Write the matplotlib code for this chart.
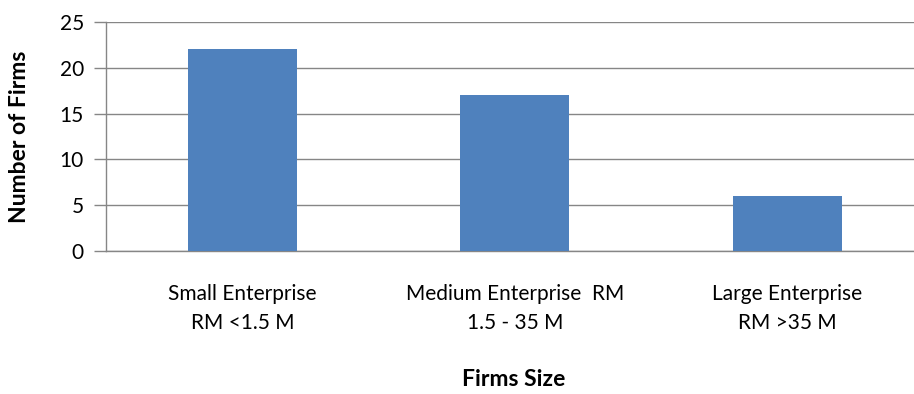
import numpy as np
import matplotlib
matplotlib.use("Agg")
import matplotlib.pyplot as plt

# données
categories = ["Small Enterprise\nRM <1.5 M", "Medium Enterprise  RM\n1.5 - 35 M", "Large Enterprise\nRM >35 M"]
firms = [22, 17, 6]
yticks = [0, 5, 10, 15, 20, 25]

plt.rcParams['font.family'] = ['Lato', 'DejaVu Sans']

fig = plt.figure(figsize=(9.14, 3.94), dpi=100)
ax = fig.add_axes([106/914, 143/394, 1 - 106/914, 229/394])

x = np.arange(len(categories))
ax.bar(x, firms, width=0.4, color="#4F81BD", zorder=3)

ax.set_xlim(-0.5, 2.465)
ax.set_ylim(0, 25)
ax.set_yticks(yticks)
ax.set_xticks(x)
ax.set_xticklabels(categories, fontsize=15, linespacing=1.55)
ax.tick_params(axis='x', length=0, pad=24)
ax.tick_params(axis='y', length=9, width=1, color="#868686", labelsize=15, pad=7)
ax.yaxis.grid(True, color="#868686", linewidth=1, zorder=0)

for side in ["top", "right"]:
    ax.spines[side].set_visible(False)
for side in ["left", "bottom"]:
    ax.spines[side].set_color("#868686")
    ax.spines[side].set_linewidth(1)

# titres des axes
ax.set_ylabel("Number of Firms", fontsize=16.5, fontweight="bold")
ax.yaxis.set_label_coords(-76/808, 0.5)
ax.set_xlabel("Firms Size", fontsize=16.5, fontweight="bold")
ax.xaxis.label.set_verticalalignment("center")
ax.xaxis.set_label_coords((514 - 106) / (914 - 106), -(380 - 251) / 229)

fig.savefig("out.png", dpi=100)
